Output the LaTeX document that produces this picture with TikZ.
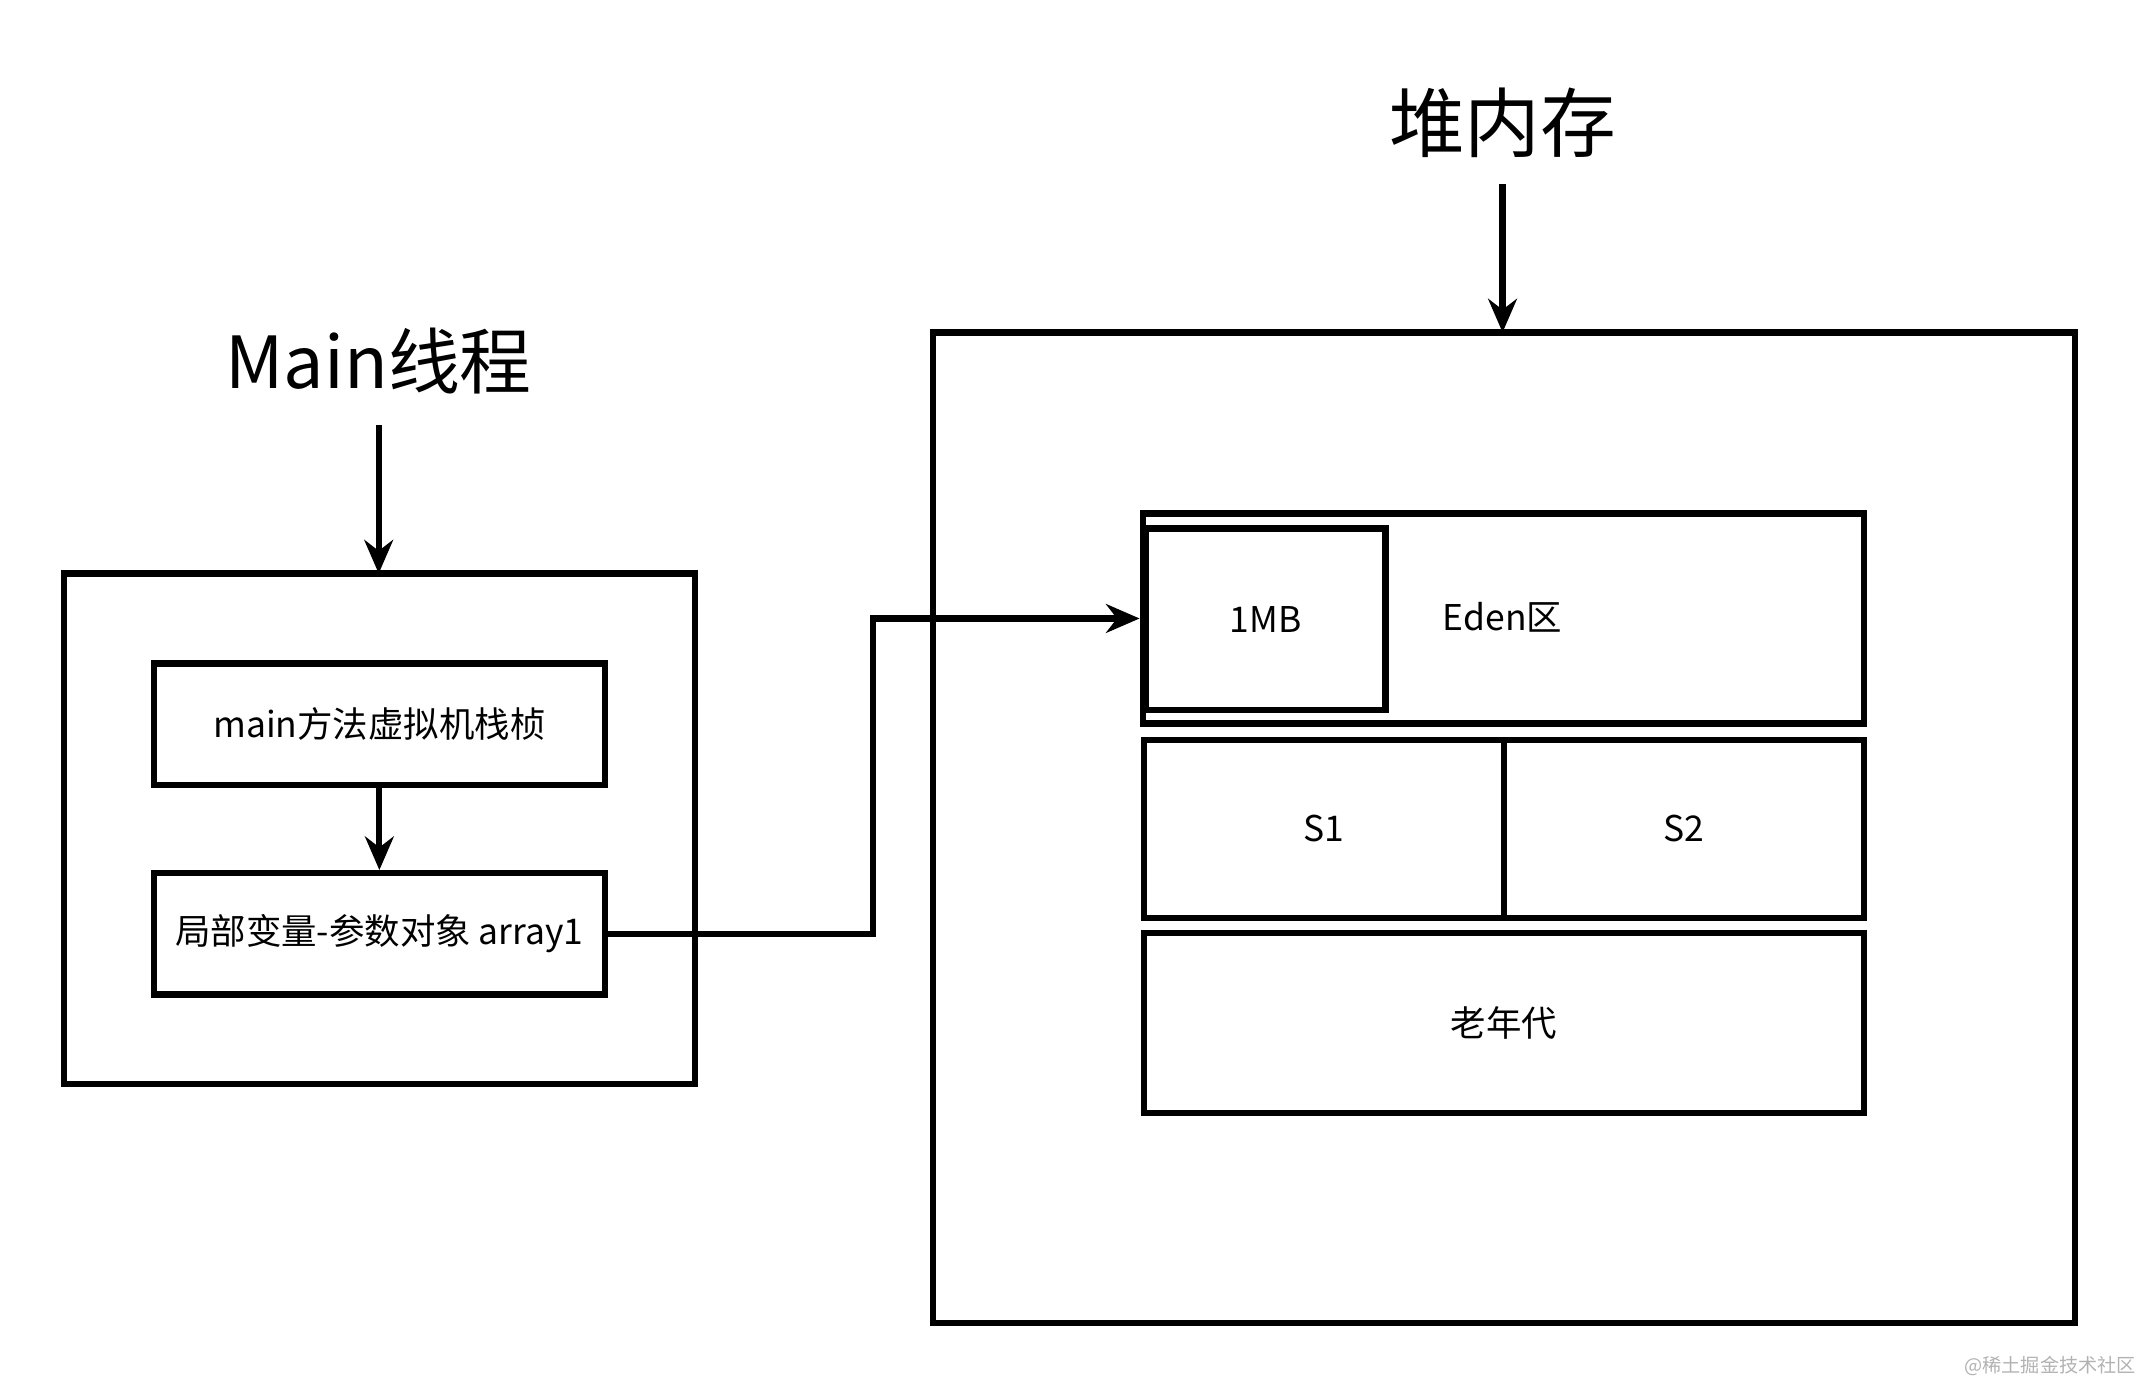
\documentclass[tikz,border=0pt]{standalone}
\usepackage{fontspec}
\setmainfont{Noto Sans CJK SC}
\usetikzlibrary{arrows.meta}
\begin{document}
\begin{tikzpicture}[x=0.01cm,y=-0.01cm,
  bx/.style={draw,line width=1.3pt,inner sep=0pt},
  ar/.style={line width=1.3pt,-{Stealth[length=7pt,width=6pt]}},
  lbl/.style={font=\fontsize{7.4}{8}\selectfont},
  ttl/.style={font=\fontsize{15}{17}\selectfont}]
\useasboundingbox (0,0) rectangle (1568,1017);
\node[ttl] (mt) at (278,265) {Main线程};
\coordinate (mta) at (278,312);
\draw[bx] (47,421) rectangle (510,796);
\coordinate (lt) at (278,421);
\draw[ar] (mta) -- (lt);
\node[bx,minimum width=3.31cm,minimum height=0.89cm,lbl] (b1) at (278.5,531.5) {main方法虚拟机栈桢};
\node[bx,minimum width=3.31cm,minimum height=0.89cm,lbl] (b2) at (278.5,685.5) {局部变量-参数对象 array1};
\draw[ar] (b1) -- (b2);
\node[ttl,font=\fontsize{15.8}{18}\selectfont] (hp) at (1103,90) {堆内存};
\coordinate (hpa) at (1103,135);
\draw[bx] (685,244) rectangle (1523,971);
\coordinate (ht) at (1103,244);
\draw[ar] (hpa) -- (ht);
\node[bx,minimum width=5.29cm,minimum height=1.54cm] (eden) at (1103.5,454) {};
\node[lbl] at (1103,453) {Eden区};
\node[bx,minimum width=1.76cm,minimum height=1.33cm,lbl] (mb) at (929,454.5) {1MB};
\node[bx,minimum width=2.64cm,minimum height=1.31cm,lbl] (s1) at (972,608.5) {S1};
\node[bx,minimum width=2.64cm,minimum height=1.31cm,lbl] (s2) at (1236,608.5) {S2};
\node[bx,minimum width=5.28cm,minimum height=1.32cm,lbl] (old) at (1104,751) {老年代};
\draw[ar] (b2.east) -- (641,685.5) -- (641,454) -- (eden.west);
\node[text=gray!60,font=\fontsize{4}{5}\selectfont] (wm) at (1505,1003) {@稀土掘金技术社区};
\end{tikzpicture}
\end{document}
